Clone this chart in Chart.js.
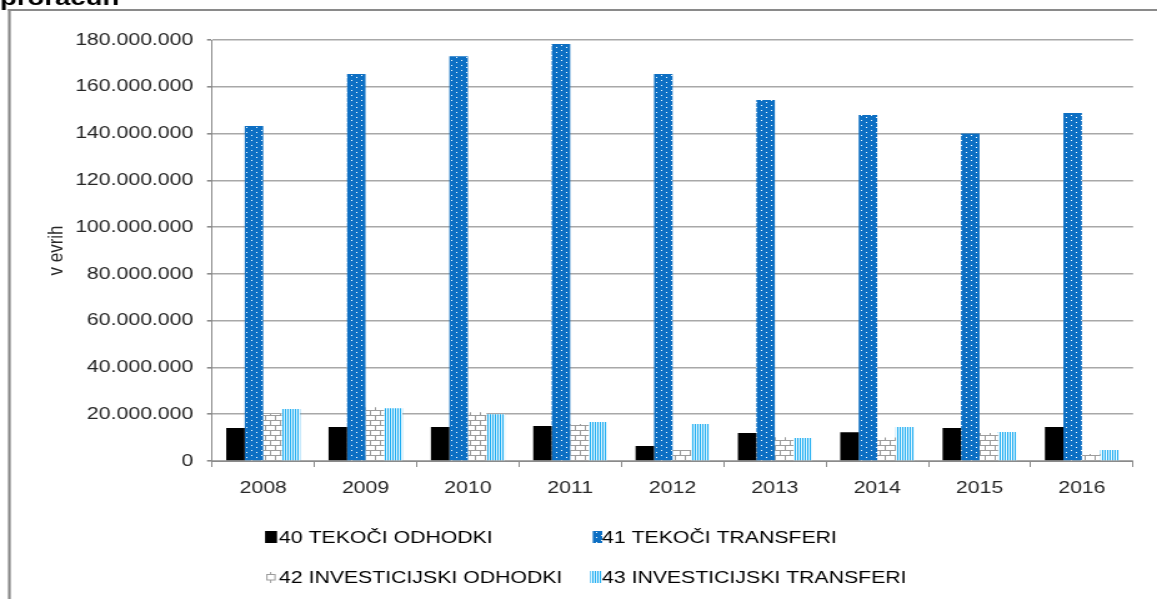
<!DOCTYPE html>
<html><head><meta charset="utf-8">
<script src="https://cdn.jsdelivr.net/npm/chart.js@4.4.1/dist/chart.umd.min.js"></script>
<style>
html,body{margin:0;padding:0;background:#fff;overflow:hidden;}
#wrap{position:absolute;left:0;top:0;width:926px;height:599px;transform:scaleX(1.2495);transform-origin:0 0;}
canvas{display:block;}
</style></head><body>
<div id="wrap"><canvas id="c" width="926" height="599"></canvas></div>
<script>
const chartTitle = 'proračun';
const yAxisTitle = 'v evrih';
const categories = ['2008','2009','2010','2011','2012','2013','2014','2015','2016'];
const seriesNames = ['40 TEKOČI ODHODKI','41 TEKOČI TRANSFERI','42 INVESTICIJSKI ODHODKI','43 INVESTICIJSKI TRANSFERI'];
const tekociOdhodki = [14100000,14500000,14500000,15000000,6400000,12000000,12300000,14100000,14500000];
const tekociTransferi = [143200000,165500000,173100000,178300000,165500000,154300000,147900000,140000000,148800000];
const investicijskiOdhodki = [20100000,23000000,20800000,15800000,4700000,10200000,10000000,12000000,3000000];
const investicijskiTransferi = [22200000,22600000,20000000,16700000,15800000,9800000,14500000,12400000,4700000];
const yMin = 0, yMax = 180000000, yStep = 20000000;

Chart.defaults.font.family = "'Liberation Sans', Arial, sans-serif";
Chart.defaults.font.size = 17;
Chart.defaults.color = '#262626';

function mk(w, h, fn){const c=document.createElement('canvas');c.width=w;c.height=h;const x=c.getContext('2d');fn(x);return x.createPattern(c,'repeat');}
const ctx0 = document.getElementById('c').getContext('2d');
const dotPattern = mk(8,5,x=>{x.fillStyle='#0d6fc3';x.fillRect(0,0,8,5);x.fillStyle='#ffffff';x.fillRect(1,0,1,1);x.fillRect(5,2,1,1);});
const brickPattern = mk(8,10,x=>{x.fillStyle='#ffffff';x.fillRect(0,0,8,10);x.fillStyle='#9c9c9c';x.fillRect(0,0,8,1);x.fillRect(0,5,8,1);x.fillRect(0,0,1,5);x.fillRect(4,5,1,5);});
const stripePattern = mk(2,1,x=>{x.fillStyle='#20aef2';x.fillRect(0,0,1,1);x.fillStyle='#e8f8ff';x.fillRect(1,0,1,1);});

function fmt(v){return String(Math.round(v)).replace(/\B(?=(\d{3})+(?!\d))/g,'.');}

const framePlugin = {
  id:'frame',
  beforeDraw(chart){
    const c=chart.ctx;
    c.save();
    c.fillStyle='#fff';c.fillRect(0,0,chart.width,chart.height);
    c.fillStyle='#000';c.font="bold 22px 'Liberation Sans', Arial, sans-serif";
    c.textBaseline='alphabetic';c.textAlign='left';
    c.fillText(chartTitle,0,5);
    c.fillStyle='#8a8a8a';
    c.fillRect(6.4,9,chart.width,2);
    c.fillRect(6.4,9,2.2,chart.height);
    c.restore();
  }
};
const legendPlugin = {
  id:'gridLegend',
  afterDraw(chart){
    const c=chart.ctx;
    const pos=[[212.1,223.3,537],[472.4,481.8,537],[212.1,223.3,577],[472.4,481.8,577]];
    c.save();
    c.font="17px 'Liberation Sans', Arial, sans-serif";
    c.textBaseline='middle';c.textAlign='left';
    chart.data.datasets.forEach((ds,i)=>{
      const [bx,tx,y]=pos[i];
      if(i===2){
        c.fillStyle='#fff';c.fillRect(bx+1,y-3,7,6);
        c.strokeStyle='#9c9c9c';c.lineWidth=1;c.strokeRect(bx+1.5,y-2.5,6.5,5.5);
        c.fillStyle='#9c9c9c';c.fillRect(bx+4,y-5,1,3);c.fillRect(bx+4,y+3,1,3);
      } else {
        c.fillStyle=ds.backgroundColor;
        if(i===1){c.fillRect(bx+2,y-6,7.6,12);}
        else c.fillRect(bx,y-6,9.6,12);
      }
      c.fillStyle='#000';
      c.fillText(ds.label,tx,y+1);
    });
    c.restore();
  }
};

new Chart(document.getElementById('c'),{
  type:'bar',
  data:{
    labels:categories,
    datasets:[
      {label:seriesNames[0],data:tekociOdhodki,backgroundColor:'#000000'},
      {label:seriesNames[1],data:tekociTransferi,backgroundColor:dotPattern},
      {label:seriesNames[2],data:investicijskiOdhodki,backgroundColor:brickPattern},
      {label:seriesNames[3],data:investicijskiTransferi,backgroundColor:stripePattern}
    ]
  },
  options:{
    responsive:false,animation:false,devicePixelRatio:1,
    datasets:{bar:{categoryPercentage:0.723,barPercentage:1,borderWidth:0}},
    layout:{padding:{left:0,right:19.2,top:40,bottom:0}},
    plugins:{legend:{display:false},title:{display:false},tooltip:{enabled:false}},
    scales:{
      x:{
        grid:{drawOnChartArea:false,drawTicks:true,tickLength:6,color:'#8a8a8a',offset:true},
        border:{color:'#8a8a8a',width:1},
        ticks:{padding:11,color:'#262626',font:{size:17}},
        afterFit(s){s.height=138;}
      },
      y:{
        min:yMin,max:yMax,
        grid:{color:'#a8a8a8',lineWidth:1.6,tickLength:4,tickColor:'#8a8a8a'},
        border:{color:'#8a8a8a',width:1},
        ticks:{stepSize:yStep,padding:11,color:'#262626',font:{size:17},callback:v=>fmt(v)},
        title:{display:true,text:yAxisTitle,color:'#262626',font:{size:17},padding:{top:35,bottom:0}},
        afterFit(s){s.width=169.7;}
      }
    }
  },
  plugins:[framePlugin,legendPlugin]
});
</script>
</body></html>
